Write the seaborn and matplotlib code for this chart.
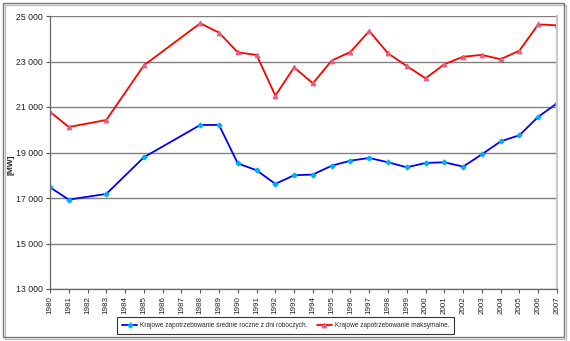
import numpy as np
import pandas as pd
import matplotlib
matplotlib.use("Agg")
import matplotlib.pyplot as plt
from matplotlib.patches import Rectangle
from matplotlib.ticker import FuncFormatter
import seaborn as sns

# Years with recorded demand values
years = [1980, 1981, 1983, 1985, 1988, 1989, 1990, 1991, 1992, 1993, 1994,
         1995, 1996, 1997, 1998, 1999, 2000, 2001, 2002, 2003, 2004, 2005,
         2006, 2007]

# Average yearly demand on working days [MW]
avg_demand = [17470, 16930, 17180, 18790, 20210, 20210, 18520, 18220, 17620,
              18000, 18030, 18420, 18640, 18760, 18570, 18350, 18540, 18570,
              18380, 18920, 19490, 19760, 20570, 21160]

# Peak demand [MW]
max_demand = [20790, 20120, 20430, 22830, 24680, 24270, 23400, 23290, 21500,
              22740, 22040, 23040, 23420, 24340, 23360, 22800, 22260, 22880,
              23210, 23290, 23100, 23480, 24630, 24590]

label_avg = "Krajowe zapotrzebowanie średnie roczne z dni roboczych."
label_max = "Krajowe zapotrzebowanie maksymalne."

year_ticks = list(range(1980, 2008))
y_ticks = [13000, 15000, 17000, 19000, 21000, 23000, 25000]

df = pd.DataFrame({"rok": years, "avg": avg_demand, "max": max_demand})

sns.set_theme(style="white")
plt.rcParams["font.family"] = ["Liberation Sans", "DejaVu Sans"]

W, H = 570, 341
fig = plt.figure(figsize=(W / 100, H / 100), dpi=100)
ax = fig.add_axes([50 / W, 1 - 289 / H, (557 - 50) / W, (289 - 16) / H])

sns.lineplot(data=df, x="rok", y="avg", ax=ax, color="#0000ff", lw=1.3,
             marker="D", markersize=2.6, markerfacecolor="#00b0f0",
             markeredgecolor="#00b0f0", label=label_avg)
sns.lineplot(data=df, x="rok", y="max", ax=ax, color="#ff0000", lw=1.3,
             marker="^", markersize=3.4, markerfacecolor="#e06080",
             markeredgecolor="#e06080", label=label_max)

ax.set_xlim(1980, 2007)
ax.set_ylim(13000, 25000)
ax.set_xticks(year_ticks)
ax.set_xticklabels([str(y) for y in year_ticks], rotation=90, fontsize=5.8,
                   color="#222222")
ax.set_yticks(y_ticks)
ax.yaxis.set_major_formatter(FuncFormatter(lambda v, p: f"{int(v):,}".replace(",", " ")))
ax.tick_params(axis="y", labelsize=6.3, labelcolor="#222222", length=3,
               width=0.8, color="#555555", direction="out", left=True, pad=2)
ax.tick_params(axis="x", length=3, width=0.8, color="#555555",
               direction="out", bottom=True, pad=2)

ax.grid(axis="y", color="#808080", lw=1.0)
ax.grid(axis="x", visible=False)
for side in ["left", "bottom"]:
    ax.spines[side].set_color("#666666")
    ax.spines[side].set_linewidth(0.9)
ax.spines["top"].set_visible(False)
ax.spines["right"].set_color("#c8c8c8")
ax.spines["right"].set_linewidth(1.5)

ax.set_xlabel("")
ax.set_ylabel("")
fig.text(11 / W, 1 - 165 / H, "[MW]", rotation=90, fontsize=6, weight="bold",
         ha="center", va="center")

ax.get_legend().remove()
handles, labels = ax.get_legend_handles_labels()
leg = fig.legend(handles, labels, ncol=2, loc="center",
                 bbox_to_anchor=(285.5 / W, 1 - 325.5 / H), fontsize=4.7,
                 frameon=True, fancybox=False, handlelength=2.4,
                 handletextpad=0.4, columnspacing=1.4, borderpad=0.7)
leg.get_frame().set_edgecolor("#000000")
leg.get_frame().set_linewidth(0.8)

# Outer chart frame with a light shadow
fig.patches.append(Rectangle((5 / W, 1 - 339 / H), 561 / W, 334 / H,
                             transform=fig.transFigure, fill=False,
                             edgecolor="#bbbbbb", lw=1.0))
fig.patches.append(Rectangle((3 / W, 1 - 337 / H), 561 / W, 334 / H,
                             transform=fig.transFigure, fill=False,
                             edgecolor="#777777", lw=1.0))

fig.savefig("out.png", dpi=100)
